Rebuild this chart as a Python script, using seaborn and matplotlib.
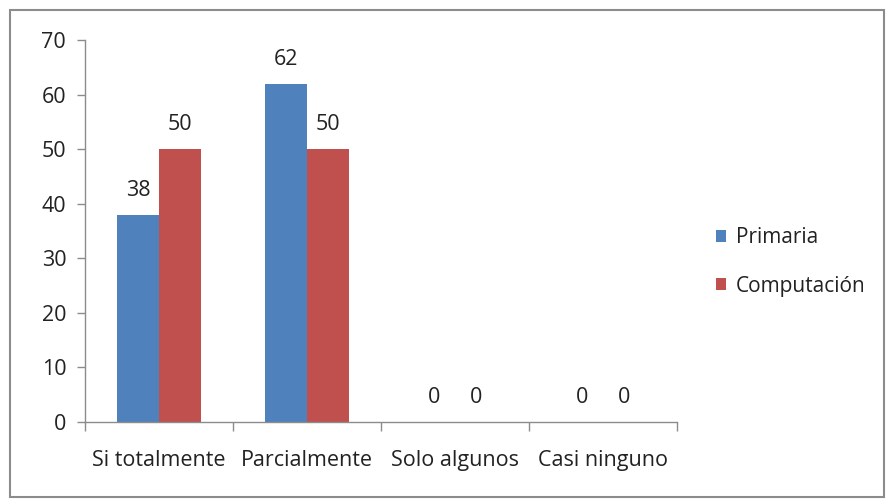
import pandas as pd
import numpy as np
import matplotlib
matplotlib.use("Agg")
import matplotlib.pyplot as plt
from matplotlib.patches import Rectangle
import seaborn as sns

# data
categories = ["Si totalmente", "Parcialmente", "Solo algunos", "Casi ninguno"]
series = ["Primaria", "Computación"]
primaria = [38, 62, 0, 0]
computacion = [50, 50, 0, 0]
y_ticks = [0, 10, 20, 30, 40, 50, 60, 70]

colors = {"Primaria": "#4F81BD", "Computación": "#C0504D"}

df = pd.DataFrame({
    "categoria": categories * 2,
    "serie": [series[0]] * len(categories) + [series[1]] * len(categories),
    "valor": primaria + computacion,
})

sns.set_style("white")
plt.rcParams["font.family"] = ["Open Sans", "DejaVu Sans"]
fs = 15.5

fig = plt.figure(figsize=(8.88, 5.01), dpi=100)
ax = fig.add_axes([85 / 888, 1 - 422 / 501, (677 - 85) / 888, (422 - 40) / 501])

sns.barplot(data=df, x="categoria", y="valor", hue="serie", order=categories,
            hue_order=series, palette=colors, width=0.57, gap=0, saturation=1,
            edgecolor="none", ax=ax)

for cont in ax.containers:
    ax.bar_label(cont, labels=[f"{v:.0f}" for v in cont.datavalues],
                 padding=10, fontsize=fs, color="#222222")

ax.set_xlim(-0.5, len(categories) - 0.5)
ax.set_ylim(0, 70)
ax.set_yticks(y_ticks)
ax.set_xticks(np.arange(len(categories) + 1) - 0.5)
ax.set_xticklabels([])
ax.set_xticks(np.arange(len(categories)), minor=True)
ax.set_xticklabels(categories, minor=True)
ax.tick_params(axis="x", which="major", bottom=True, length=6.5, width=1,
               color="#8c8c8c", direction="out")
ax.tick_params(axis="x", which="minor", bottom=False, length=0, pad=20,
               labelsize=fs, labelcolor="#222222")
ax.tick_params(axis="y", left=True, length=6, width=1, color="#8c8c8c", direction="out",
               labelsize=fs, labelcolor="#222222", pad=7.5)
ax.set_xlabel("")
ax.set_ylabel("")

for side in ["top", "right"]:
    ax.spines[side].set_visible(False)
for side in ["left", "bottom"]:
    ax.spines[side].set_color("#8c8c8c")
    ax.spines[side].set_linewidth(1)

ax.legend(loc="center left", bbox_to_anchor=(697 / 888, 1 - 262 / 501),
          bbox_transform=fig.transFigure, frameon=False, fontsize=15,
          handlelength=0.5, handleheight=0.5, handletextpad=0.45,
          labelspacing=1.3, labelcolor="#222222")

# outer chart border
fig.patches.append(Rectangle((10 / 888, 4 / 501), 874 / 888, 487 / 501, transform=fig.transFigure,
                             fill=False, edgecolor="#8c8c8c", linewidth=1.5))

fig.savefig("out.png", dpi=100)
